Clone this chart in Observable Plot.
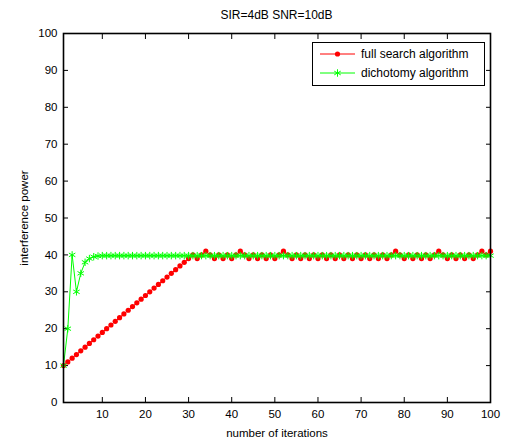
<!DOCTYPE html>
<html><head><meta charset="utf-8">
<script src="https://cdn.jsdelivr.net/npm/d3@7"></script>
<script src="https://cdn.jsdelivr.net/npm/@observablehq/plot@0.6"></script>
<style>
body{margin:0;background:#fff;}
#wrap{position:relative;width:512px;height:441px;font-family:"Liberation Sans",Arial,sans-serif;background:#fff;}
#title{position:absolute;left:63px;width:427px;top:8px;text-align:center;font-size:12px;color:#000;}
#legend{position:absolute;left:312px;top:42px;width:171px;height:42px;border:1px solid #000;background:#fff;}
</style></head><body><div id="wrap"><div id="title"></div></div>
<script>
const title = "SIR=4dB SNR=10dB";
const xLabel = "number of iterations";
const yLabel = "interference power";
const seriesNames = ["full search algorithm", "dichotomy algorithm"];
const seriesColors = ["#ff0000", "#00ff00"];
const iterations = [1,2,3,4,5,6,7,8,9,10,11,12,13,14,15,16,17,18,19,20,21,22,23,24,25,26,27,28,29,30,31,32,33,34,35,36,37,38,39,40,41,42,43,44,45,46,47,48,49,50,51,52,53,54,55,56,57,58,59,60,61,62,63,64,65,66,67,68,69,70,71,72,73,74,75,76,77,78,79,80,81,82,83,84,85,86,87,88,89,90,91,92,93,94,95,96,97,98,99,100];
const fullSearch = [10,11,12,13,14,15,16,17,18,19,20,21,22,23,24,25,26,27,28,29,30,31,32,33,34,35,36,37,38,39,40,
  39,40,41,40,39,40,39,40,39,40,41,40,39,40,39,40,39,40,39,40,41,40,39,40,39,40,39,40,39,40,39,40,39,40,39,40,39,40,39,40,39,40,39,40,39,40,41,40,39,40,39,40,39,40,39,40,41,40,39,40,39,40,39,40,39,40,41,40,41];
const dichotomy = [10,20,40,30,35,38,39,39.5,39.7,39.8,39.8,39.8,39.8,39.8,39.8,39.8,39.8,39.8,39.8,39.8,39.8,39.8,39.8,39.8,39.8,39.8,39.8,39.8,39.8,39.8,39.8,39.8,39.8,39.8,39.8,39.8,39.8,39.8,39.8,39.8,39.8,39.8,39.8,39.8,39.8,39.8,39.8,39.8,39.8,39.8,39.8,39.8,39.8,39.8,39.8,39.8,39.8,39.8,39.8,39.8,39.8,39.8,39.8,39.8,39.8,39.8,39.8,39.8,39.8,39.8,39.8,39.8,39.8,39.8,39.8,39.8,39.8,39.8,39.8,39.8,39.8,39.8,39.8,39.8,39.8,39.8,39.8,39.8,39.8,39.8,39.8,39.8,39.8,39.8,39.8,39.8,39.8,39.8,39.8,39.8];
const xTicks = [10,20,30,40,50,60,70,80,90,100];
const yTicks = [0,10,20,30,40,50,60,70,80,90,100];

const data = iterations.map((x, i) => ({x, full: fullSearch[i], dich: dichotomy[i]}));

const chart = Plot.plot({
  width: 512, height: 441,
  marginLeft: 63, marginRight: 22, marginTop: 33, marginBottom: 39,
  style: {fontFamily: "'Liberation Sans', Arial, sans-serif", fontSize: "11px", background: "transparent", color: "#000"},
  x: {domain: [1, 100]},
  y: {domain: [0, 100]},
  marks: [
    Plot.axisX({anchor: "bottom", ticks: xTicks, tickSize: -5, tickPadding: 12, label: xLabel, labelAnchor: "center", labelOffset: 34, labelArrow: "none", fontSize: 11.5}),
    Plot.axisX({anchor: "top", ticks: xTicks, tickSize: -5, tickFormat: () => "", label: null}),
    Plot.axisY({anchor: "left", ticks: yTicks, tickSize: -5, tickPadding: 11, label: yLabel, labelAnchor: "center", labelOffset: 44, labelArrow: "none", fontSize: 11.5}),
    Plot.axisY({anchor: "right", ticks: yTicks, tickSize: -5, tickFormat: () => "", label: null}),
    Plot.line(data, {x: "x", y: "full", stroke: seriesColors[0], strokeWidth: 1}),
    Plot.dot(data, {x: "x", y: "full", fill: seriesColors[0], r: 2.6}),
    Plot.line(data, {x: "x", y: "dich", stroke: seriesColors[1], strokeWidth: 1}),
    Plot.dot(data, {x: "x", y: "dich", stroke: seriesColors[1], symbol: "asterisk", r: 3.5, strokeWidth: 1}),
    Plot.frame({stroke: "#000", strokeWidth: 1.6})
  ]
});
chart.style.position = "absolute";
chart.style.left = "0px";
chart.style.top = "0px";
const wrap = document.getElementById("wrap");
wrap.insertBefore(chart, wrap.firstChild);
document.getElementById("title").textContent = title;

// legend
const legend = document.createElement("div");
legend.id = "legend";
const ns = "http://www.w3.org/2000/svg";
const lsvg = document.createElementNS(ns, "svg");
lsvg.setAttribute("width", 171); lsvg.setAttribute("height", 42);
seriesNames.forEach((name, i) => {
  const cy = 11 + i * 19;
  const ln = document.createElementNS(ns, "line");
  ln.setAttribute("x1", 7); ln.setAttribute("x2", 42); ln.setAttribute("y1", cy); ln.setAttribute("y2", cy);
  ln.setAttribute("stroke", seriesColors[i]); ln.setAttribute("stroke-width", 1);
  lsvg.appendChild(ln);
  if (i === 0) {
    const c = document.createElementNS(ns, "circle");
    c.setAttribute("cx", 24.5); c.setAttribute("cy", cy); c.setAttribute("r", 2.6); c.setAttribute("fill", seriesColors[i]);
    lsvg.appendChild(c);
  } else {
    const p = document.createElementNS(ns, "path");
    const r = 3.5;
    p.setAttribute("d", d3.symbol(d3.symbolAsterisk, Math.PI * r * r)());
    p.setAttribute("transform", `translate(24.5,${cy})`);
    p.setAttribute("stroke", seriesColors[i]); p.setAttribute("fill", "none");
    lsvg.appendChild(p);
  }
  const t = document.createElementNS(ns, "text");
  t.setAttribute("x", 48); t.setAttribute("y", cy); t.setAttribute("dy", "0.35em");
  t.setAttribute("font-size", 12); t.setAttribute("font-family", "'Liberation Sans', Arial, sans-serif");
  t.textContent = name;
  lsvg.appendChild(t);
});
legend.appendChild(lsvg);
wrap.appendChild(legend);
</script></body></html>
